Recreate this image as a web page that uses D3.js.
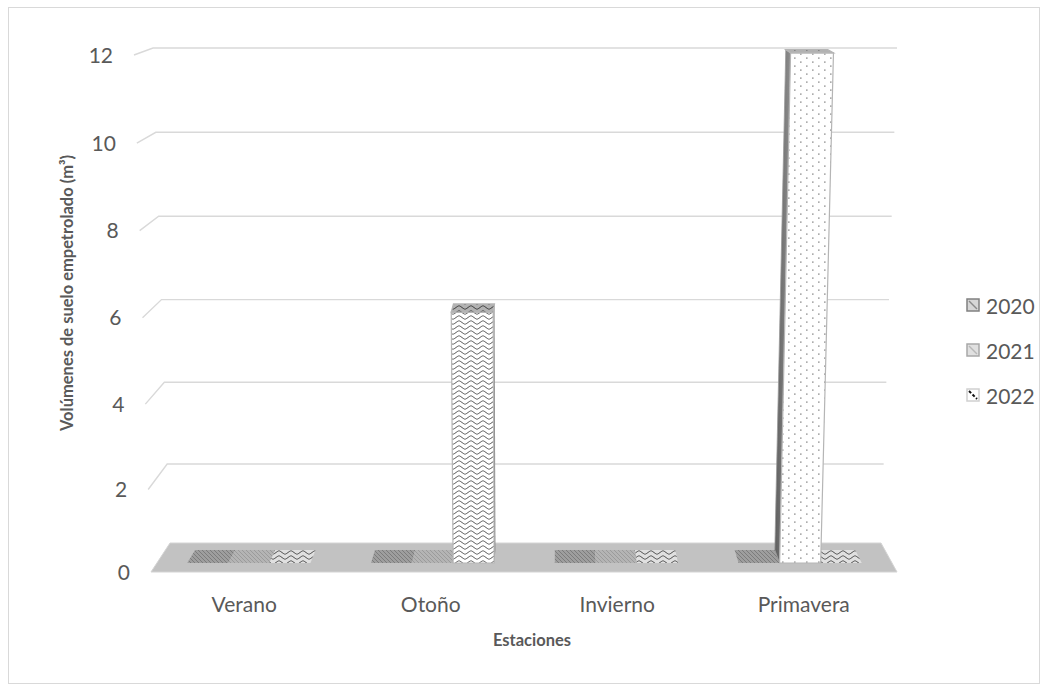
<!DOCTYPE html>
<html>
<head>
<meta charset="utf-8">
<script src="https://cdn.jsdelivr.net/npm/d3@7/dist/d3.min.js"></script>
<style>
  html, body { margin: 0; padding: 0; background: #ffffff; }
  svg { display: block; }
  text { font-family: Lato, "Open Sans", "Liberation Sans", sans-serif; fill: #595959; }
</style>
</head>
<body>
<svg id="chart" width="1047" height="691"></svg>
<script>
// ---------------- data ----------------
const categories = ["Verano", "Otoño", "Invierno", "Primavera"];
const seriesNames = ["2020", "2021", "2022"];
const values2020 = [0, 0, 0, 0];
const values2021 = [0, 0, 0, 12];
const values2022 = [0, 6, 0, 0];
const yTickValues = [0, 2, 4, 6, 8, 10, 12];
const yAxisTitle = "Volúmenes de suelo empetrolado (m³)";
const xAxisTitle = "Estaciones";

// ---------------- styles ----------------
const seriesPattern = { "2020": "p2020", "2021": "p2021", "2022": "p2022" };
const pointPatternOverride = { "Primavera|2021": "pDots" };

const svg = d3.select("#chart");

// chart border
svg.append("rect").attr("x", 8.5).attr("y", 7.5).attr("width", 1031).attr("height", 676)
  .attr("fill", "#fff").attr("stroke", "#d9d9d9").attr("stroke-width", 1);

// ---------------- patterns ----------------
const defs = svg.append("defs");
function hatch(id, bg, fg) {
  const p = defs.append("pattern").attr("id", id).attr("patternUnits", "userSpaceOnUse")
    .attr("width", 4).attr("height", 4);
  p.append("rect").attr("width", 4).attr("height", 4).attr("fill", bg);
  p.append("path").attr("d", "M-1,-1 L5,5 M-1,3 L1,5 M3,-1 L5,1")
    .attr("stroke", fg).attr("stroke-width", 0.9);
}
hatch("p2020", "#9e9e9e", "#787878");
hatch("p2021", "#b4b4b4", "#999999");
{
  const p = defs.append("pattern").attr("id", "p2022").attr("patternUnits", "userSpaceOnUse")
    .attr("width", 12).attr("height", 5);
  p.append("rect").attr("width", 12).attr("height", 5).attr("fill", "#ffffff");
  p.append("path").attr("d", "M0,2.5 C3,0.3 3,0.3 6,2.5 S9,4.7 12,2.5")
    .attr("fill", "none").attr("stroke", "#444444").attr("stroke-width", 0.9);
}
{
  const p = defs.append("pattern").attr("id", "pDots").attr("patternUnits", "userSpaceOnUse")
    .attr("width", 12).attr("height", 8);
  p.append("rect").attr("width", 12).attr("height", 8).attr("fill", "#ffffff");
  p.append("rect").attr("x", 2).attr("y", 1.5).attr("width", 1.6).attr("height", 1.2).attr("fill", "#8a8a8a");
  p.append("rect").attr("x", 8).attr("y", 5.5).attr("width", 1.6).attr("height", 1.2).attr("fill", "#8a8a8a");
}
const sideGrad = defs.append("linearGradient").attr("id", "sideGrad")
  .attr("x1", 0).attr("x2", 1).attr("y1", 0).attr("y2", 0);
sideGrad.append("stop").attr("offset", "0%").attr("stop-color", "#5e5e5e");
sideGrad.append("stop").attr("offset", "100%").attr("stop-color", "#8e8e8e");

// ---------------- 3D projection built on d3 scales ----------------
const yMax = d3.max(yTickValues);
const persp = d3.scalePow().exponent(1.024).domain([0, yMax]).range([0, yMax]);
const yBack = d3.scaleLinear().domain([0, yMax]).range([543, 48]);
const yFront = d3.scaleLinear().domain([0, yMax]).range([572, 55]);
const leftBack = d3.scaleLinear().domain([0, yMax]).range([170, 153]);
const leftFront = d3.scaleLinear().domain([0, yMax]).range([151, 134]);
const rightBack = d3.scaleLinear().domain([0, yMax]).range([881, 897]);
const rightFront = d3.scaleLinear().domain([0, yMax]).range([897, 913]);

function P(u, v, z) {
  const w = persp(v);
  const y = d3.interpolateNumber(yBack(w), yFront(w))(z);
  const L = d3.interpolateNumber(leftBack(v), leftFront(v))(z);
  const R = d3.interpolateNumber(rightBack(v), rightFront(v))(z);
  return [L + u * (R - L), y];
}
const poly = pts => "M" + pts.map(p => p.join(",")).join("L") + "Z";

const xBand = d3.scaleBand().domain(categories).range([0, 1]).paddingInner(0.33).paddingOuter(0.165);
const xInner = d3.scaleBand().domain(seriesNames).range([0, xBand.bandwidth()]);
const zBar = [0.24, 0.69];

// ---------------- floor ----------------
svg.append("path").attr("d", poly([P(0, 0, 0), P(1, 0, 0), P(1, 0, 1), P(0, 0, 1)]))
  .attr("fill", "#c2c2c2").attr("stroke", "#d4d4d4").attr("stroke-width", 1);

// ---------------- gridlines ----------------
const grid = svg.append("g");
yTickValues.filter(v => v > 0).forEach(v => {
  grid.append("path")
    .attr("d", "M" + [P(0, v, 1), P(0, v, 0), P(1, v, 0)].map(p => p.join(",")).join("L"))
    .attr("fill", "none").attr("stroke", "#d9d9d9").attr("stroke-width", 1.4);
});

// ---------------- tick labels ----------------
svg.append("g").selectAll("text").data(yTickValues).join("text")
  .attr("x", v => P(0, v, 1)[0] - 21)
  .attr("y", v => P(0, v, 1)[1] - 1)
  .attr("text-anchor", "end").attr("dominant-baseline", "central")
  .style("font-size", "21px").text(v => v);

// ---------------- bars ----------------
const seriesValues = { "2020": values2020, "2021": values2021, "2022": values2022 };
const barData = [];
categories.forEach((c, ci) => seriesNames.forEach(s => {
  barData.push({ cat: c, ser: s, value: seriesValues[s][ci] });
}));
barData.sort((a, b) => a.value - b.value);

const bars = svg.append("g");
barData.forEach(d => {
  const u0 = xBand(d.cat) + xInner(d.ser);
  const u1 = u0 + xInner.bandwidth();
  const v = d.value;
  const [z0, z1] = zBar;
  const pat = "url(#" + (pointPatternOverride[d.cat + "|" + d.ser] || seriesPattern[d.ser]) + ")";
  const g = bars.append("g");
  const edge = v > 0 ? "#b5b5b5" : "none";
  if (v > 0) {
    if (P(u0, v, z0)[0] < P(u0, v, z1)[0] - 0.5) {
      g.append("path").attr("d", poly([P(u0, 0, z0), P(u0, 0, z1), P(u0, v, z1), P(u0, v, z0)]))
        .attr("fill", "url(#sideGrad)").attr("stroke", "#9a9a9a").attr("stroke-width", 0.8);
    }
    if (P(u1, v, z0)[0] > P(u1, v, z1)[0] + 0.5) {
      g.append("path").attr("d", poly([P(u1, 0, z0), P(u1, 0, z1), P(u1, v, z1), P(u1, v, z0)]))
        .attr("fill", "#8a8a8a");
    }
    g.append("path").attr("d", poly([P(u0, 0, z1), P(u1, 0, z1), P(u1, v, z1), P(u0, v, z1)]))
      .attr("fill", pat).attr("stroke", edge).attr("stroke-width", 1.2);
  }
  const top = poly([P(u0, v, z0), P(u1, v, z0), P(u1, v, z1), P(u0, v, z1)]);
  g.append("path").attr("d", top).attr("fill", pat);
  g.append("path").attr("d", top)
    .attr("fill", "#000").attr("fill-opacity", v > 0 ? 0.3 : (d.ser === "2022" ? 0.12 : 0.0))
    .attr("stroke", edge).attr("stroke-width", 1.2);
});

// ---------------- category labels ----------------
svg.append("g").selectAll("text").data(categories).join("text")
  .attr("x", c => P(xBand(c) + xBand.bandwidth() / 2, 0, 1)[0])
  .attr("y", 603)
  .attr("text-anchor", "middle").attr("dominant-baseline", "central")
  .style("font-size", "21px").text(c => c);

// ---------------- axis titles ----------------
svg.append("text").attr("x", 532).attr("y", 640)
  .attr("text-anchor", "middle").attr("dominant-baseline", "central")
  .style("font-size", "16.5px").style("font-weight", "bold").text(xAxisTitle);
svg.append("text").attr("transform", "translate(67,293) rotate(-90)")
  .attr("text-anchor", "middle").attr("dominant-baseline", "central")
  .style("font-size", "16.5px").style("font-weight", "bold").text(yAxisTitle);

// ---------------- legend ----------------
const legendY = d3.scalePoint().domain(seriesNames).range([305, 395]);
const legendStroke = { "2020": "#808080", "2021": "#a8a8a8", "2022": "#d0d0d0" };
const legendFill = { "2020": "#d6d6d6", "2021": "#e0e0e0", "2022": "#ffffff" };
const legendLine = { "2020": "#8a8a8a", "2021": "#b8b8b8", "2022": "#111111" };
const lg = svg.append("g");
seriesNames.forEach(s => {
  const y = legendY(s);
  lg.append("rect").attr("x", 967).attr("y", y - 6).attr("width", 12).attr("height", 12)
    .attr("fill", legendFill[s]).attr("stroke", legendStroke[s]).attr("stroke-width", 1.5);
  lg.append("path").attr("d", `M969,${y - 4} L977,${y + 4}`)
    .attr("stroke", legendLine[s]).attr("stroke-width", s === "2022" ? 2 : 1.5)
    .attr("stroke-dasharray", s === "2022" ? "3,2" : null);
  lg.append("text").attr("x", 986).attr("y", y)
    .attr("dominant-baseline", "central").style("font-size", "21px").text(s);
});
</script>
</body>
</html>
